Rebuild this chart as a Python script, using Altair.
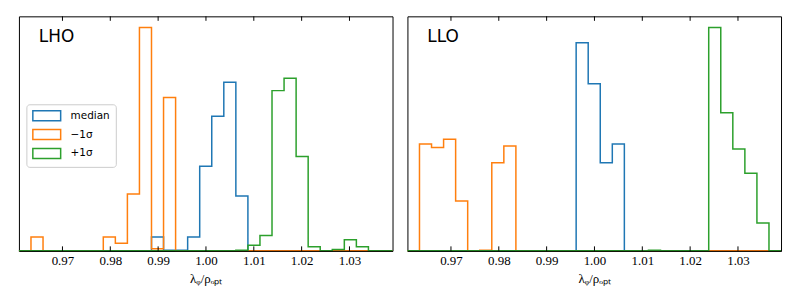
import altair as alt
import numpy as np
import pandas as pd

# ---- data ----
x_lo = 0.9609
x_hi = 1.0390
n_bins = 31
tick_values = [0.97, 0.98, 0.99, 1.00, 1.01, 1.02, 1.03]
series_names = ["median", "−1σ", "+1σ"]
series_colors = ["#1f77b4", "#ff7f0e", "#2ca02c"]
panel_names = ["LHO", "LLO"]

# counts per bin (31 common bins)
lho_median = [0, 0, 0, 0, 0, 0, 0, 0, 0, 0, 0, 20, 1, 1, 20, 122, 194, 243,
              79, 0, 0, 0, 0, 0, 0, 0, 0, 0, 0, 0, 0]
lho_minus = [0, 20, 0, 0, 0, 0, 0, 20, 11, 82, 322, 3, 221, 0, 0, 0, 0, 0,
             0, 0, 0, 0, 0, 0, 0, 0, 0, 0, 0, 0, 0]
lho_plus = [0, 0, 0, 0, 0, 0, 0, 0, 0, 0, 0, 0, 0, 0, 0, 0, 0, 0,
            1, 8, 22, 231, 249, 136, 6, 0, 2, 16, 6, 0, 0]
llo_median = [0, 0, 0, 0, 0, 0, 0, 0, 0, 0, 0, 0, 0, 0, 300, 241, 127, 154,
              0, 0, 0, 0, 0, 0, 0, 0, 0, 0, 0, 0, 0]
llo_minus = [0, 154, 149, 161, 72, 0, 1, 127, 151, 0, 0, 0, 0, 0, 0, 0, 0, 0,
             0, 0, 0, 0, 0, 0, 0, 0, 0, 0, 0, 0, 0]
llo_plus = [0, 0, 0, 0, 0, 0, 0, 0, 0, 0, 0, 0, 0, 0, 0, 0, 0, 0,
            0, 0, 1, 0, 0, 0, 0, 322, 199, 147, 112, 40, 0]

panel_data = {
    "LHO": [lho_median, lho_minus, lho_plus],
    "LLO": [llo_median, llo_minus, llo_plus],
}

edges = np.linspace(x_lo, x_hi, n_bins + 1)
y_top = 1.05 * max(max(v) for vals in panel_data.values() for v in vals)

W, H = 376, 236
TICK = 4.5
SERIF = "Liberation Serif"
SANS = "DejaVu Sans"


def step_frame(heights, name):
    xs = [edges[0]]
    ys = [0.0]
    for k, h in enumerate(heights):
        xs += [edges[k], edges[k + 1]]
        ys += [h, h]
    xs.append(edges[-1])
    ys.append(0.0)
    return pd.DataFrame({"x": xs, "y": ys, "order": range(len(xs)), "series": name})


axis_x = alt.Axis(
    values=tick_values, format=".2f", ticks=False, grid=False,
    labelPadding=4, labelFont=SERIF, labelFontSize=13, labelColor="black",
    title="λᵩ/ρₒₚₜ", titleFont=SERIF, titleFontSize=13, titleFontWeight="normal",
    titleColor="black", titlePadding=5,
    domainColor="black", domainWidth=1, zindex=1,
)
x_scale = alt.Scale(domain=[x_lo, x_hi], nice=False, zero=False)
y_scale = alt.Scale(domain=[0, y_top], nice=False)
color_scale = alt.Scale(domain=series_names, range=series_colors)

# wide, flat outline rectangle as the legend handle
legend_rect = "M-2.8,-1L2.8,-1L2.8,1L-2.8,1Z"


def make_panel(pname, show_legend):
    layers = []
    for name, heights in zip(series_names, panel_data[pname]):
        df = step_frame(heights, name)
        if show_legend:
            leg = alt.Legend(
                orient="none", legendX=7.5, legendY=88.5, title=None,
                fillColor="rgba(255,255,255,0.85)", strokeColor="#cccccc",
                cornerRadius=3, padding=5.5, symbolType=legend_rect, symbolSize=100,
                symbolStrokeWidth=1.5, symbolFillColor="transparent",
                symbolOffset=9, labelFont=SANS, labelFontSize=10.5, labelColor="black",
                rowPadding=3, labelOffset=18,
            )
        else:
            leg = None
        layers.append(
            alt.Chart(df).mark_line(strokeWidth=1.5, interpolate="linear").encode(
                x=alt.X("x:Q", scale=x_scale, axis=axis_x),
                y=alt.Y("y:Q", scale=y_scale, axis=None),
                order=alt.Order("order:Q"),
                color=alt.Color("series:N", scale=color_scale, legend=leg),
            )
        )
    ticks_df = pd.DataFrame({"x": tick_values})
    bottom_ticks = alt.Chart(ticks_df).mark_rule(color="black", strokeWidth=1).encode(
        x=alt.X("x:Q", scale=x_scale, axis=axis_x),
        y=alt.value(H - TICK), y2=alt.value(H),
    )
    top_ticks = alt.Chart(ticks_df).mark_rule(color="black", strokeWidth=1).encode(
        x=alt.X("x:Q", scale=x_scale, axis=axis_x),
        y=alt.value(0), y2=alt.value(TICK),
    )
    label = alt.Chart(pd.DataFrame({"name": [pname]})).mark_text(
        align="left", baseline="alphabetic", font=SANS, fontSize=17, color="black"
    ).encode(x=alt.value(20), y=alt.value(26), text="name:N")
    return alt.layer(*layers, bottom_ticks, top_ticks, label).properties(width=W, height=H)


chart = alt.hconcat(
    make_panel("LHO", True), make_panel("LLO", False), spacing=7
).resolve_scale(color="independent").properties(
    padding={"left": 7, "top": 6.5, "right": 0, "bottom": 0}
).configure_view(stroke="black", strokeWidth=1)

chart.save("out.html", embed_options={"renderer": "svg", "actions": False})
